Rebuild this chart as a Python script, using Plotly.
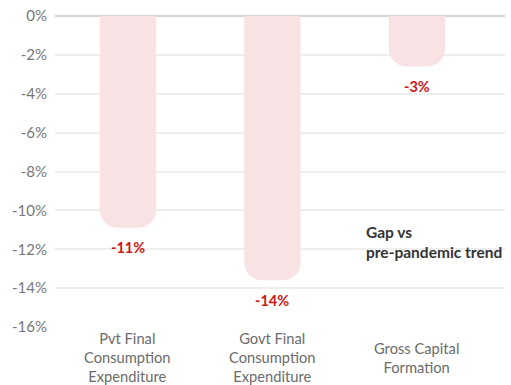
import plotly.graph_objects as go

# Gap vs pre-pandemic trend, by demand component (%)
categories = ["Pvt Final Consumption Expenditure",
              "Govt Final Consumption Expenditure",
              "Gross Capital Formation"]
tick_labels = ["Pvt Final<br>Consumption<br>Expenditure",
               "Govt Final<br>Consumption<br>Expenditure",
               "Gross Capital<br>Formation"]
gap_pct = [-10.9, -13.6, -2.6]
y_ticks = [0, -2, -4, -6, -8, -10, -12, -14, -16]

FONT = "Lato"
BAR_COLOR = "#f8e2e4"
LABEL_COLOR = "#cc1616"

fig = go.Figure()
fig.add_trace(go.Bar(
    x=categories,
    y=gap_pct,
    width=0.39,
    marker=dict(color=BAR_COLOR, line=dict(width=0)),
    hoverinfo="skip",
))

# value labels under each bar end
for cat, v in zip(categories, gap_pct):
    fig.add_annotation(
        x=cat, y=v, text=f"<b>{round(v)}%</b>", showarrow=False,
        yanchor="middle", yshift=-20,
        font=dict(family=FONT, size=14.5, color=LABEL_COLOR),
    )

# category labels, centred vertically below the axis
for cat, lab in zip(categories, tick_labels):
    fig.add_annotation(
        x=cat, y=0, yref="paper", text=lab, showarrow=False,
        yanchor="middle", yshift=-30,
        font=dict(family=FONT, size=14.7, color="#6b6b6b"),
    )

fig.add_annotation(
    x=1.635, y=-11.63, xref="x", yref="y",
    text="<b>Gap vs<br>pre-pandemic trend</b>", showarrow=False,
    xanchor="left", yanchor="middle", align="left",
    font=dict(family=FONT, size=15.5, color="#333333"),
)

fig.update_layout(
    width=511, height=385,
    margin=dict(l=55, r=6, t=12, b=58),
    paper_bgcolor="white", plot_bgcolor="white",
    showlegend=False,
    barcornerradius=18,
    font=dict(family=FONT),
)
fig.update_xaxes(
    range=[-0.505, 2.61], showticklabels=False, showgrid=False,
    zeroline=False, showline=False, ticks="",
)
fig.update_yaxes(
    range=[-16, 0], tickvals=y_ticks,
    ticktext=[f"{t}%" for t in y_ticks],
    tickfont=dict(family=FONT, size=15, color="#777777"),
    showgrid=True, gridcolor="#eeeeee", gridwidth=1.5,
    zeroline=True, zerolinecolor="#d4d4d4", zerolinewidth=2,
    showline=False, ticks="", ticklabelstandoff=7,
)

fig.write_html("out.html")
